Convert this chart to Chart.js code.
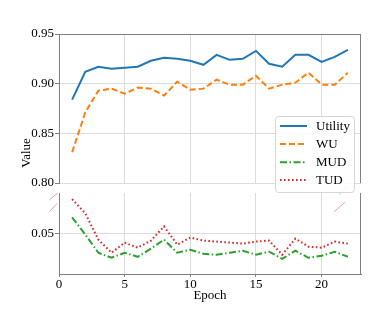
<!DOCTYPE html>
<html>
<head>
<meta charset="utf-8">
<script src="https://cdn.jsdelivr.net/npm/chart.js@4/dist/chart.umd.min.js"></script>
<style>
  html, body { margin: 0; padding: 0; background: #fff; }
  #wrap { position: relative; width: 382px; height: 321px; }
  #wrap canvas { position: absolute; left: 0; top: 0; }
</style>
</head>
<body>
<div id="wrap">
  <canvas id="topChart" width="382" height="321"></canvas>
  <canvas id="bottomChart" width="382" height="321"></canvas>
</div>
<script>
'use strict';

const epochs = [1, 2, 3, 4, 5, 6, 7, 8, 9, 10, 11, 12, 13, 14, 15, 16, 17, 18, 19, 20, 21, 22];
const utility = [0.884, 0.912, 0.917, 0.915, 0.916, 0.917, 0.923, 0.926, 0.925, 0.923, 0.919, 0.929, 0.924, 0.925, 0.933, 0.920, 0.917, 0.929, 0.929, 0.922, 0.927, 0.934];
const wu = [0.831, 0.871, 0.893, 0.895, 0.890, 0.896, 0.895, 0.888, 0.902, 0.894, 0.895, 0.904, 0.899, 0.899, 0.908, 0.895, 0.899, 0.901, 0.911, 0.899, 0.899, 0.911];
const mud = [0.066, 0.049, 0.031, 0.026, 0.031, 0.027, 0.035, 0.044, 0.031, 0.034, 0.030, 0.029, 0.031, 0.033, 0.029, 0.032, 0.025, 0.033, 0.026, 0.028, 0.032, 0.027];
const tud = [0.084, 0.070, 0.044, 0.031, 0.041, 0.036, 0.043, 0.057, 0.039, 0.046, 0.043, 0.042, 0.041, 0.040, 0.042, 0.043, 0.029, 0.045, 0.037, 0.036, 0.042, 0.040];

const xTicks = [0, 5, 10, 15, 20];
const topTicks = [0.80, 0.85, 0.90, 0.95];
const bottomTicks = [0.05];

const font = { family: "'Liberation Serif', 'Times New Roman', serif", size: 13 };
const gridColor = '#dcdcdc';
const spineColor = '#808080';

function pts(vals) {
  return epochs.map((e, i) => ({ x: e, y: vals[i] }));
}

const series = [
  { label: 'Utility', data: utility, color: '#1f77b4', dash: [] },
  { label: 'WU', data: wu, color: '#ff7f0e', dash: [6, 3] },
  { label: 'MUD', data: mud, color: '#2ca02c', dash: [7, 2.5, 1.5, 2.5] },
  { label: 'TUD', data: tud, color: '#d62728', dash: [1.6, 2.4] }
];

function dataset(s) {
  return {
    label: s.label,
    data: pts(s.data),
    borderColor: s.color,
    backgroundColor: s.color,
    borderWidth: 2,
    borderDash: s.dash,
    pointRadius: 0,
    tension: 0,
    fill: false
  };
}

function setTicks(list) {
  return scale => { scale.ticks = list.map(v => ({ value: v })); };
}

// extra spines (top / right) not covered by axis borders
function spinesPlugin(sides) {
  return {
    id: 'spines',
    afterDatasetsDraw(chart) {
      const { ctx, chartArea: a } = chart;
      ctx.save();
      ctx.strokeStyle = spineColor;
      ctx.lineWidth = 1;
      ctx.beginPath();
      if (sides.includes('top')) { ctx.moveTo(a.left, a.top + 0.5); ctx.lineTo(a.right, a.top + 0.5); }
      if (sides.includes('right')) { ctx.moveTo(a.right - 0.5, a.top); ctx.lineTo(a.right - 0.5, a.bottom); }
      ctx.stroke();
      ctx.restore();
    }
  };
}

const topChart = new Chart(document.getElementById('topChart'), {
  type: 'line',
  data: { datasets: [dataset(series[0]), dataset(series[1])] },
  options: {
    responsive: false,
    animation: false,
    layout: { padding: { top: 34, right: 21, bottom: 138, left: 0 } },
    plugins: { legend: { display: false }, tooltip: { enabled: false } },
    scales: {
      x: {
        type: 'linear', min: 0, max: 23,
        afterBuildTicks: setTicks(xTicks),
        afterFit: s => { s.height = 0; },
        ticks: { display: false },
        grid: { color: gridColor, drawTicks: false },
        border: { display: false }
      },
      y: {
        min: 0.80, max: 0.95,
        afterBuildTicks: setTicks(topTicks),
        afterFit: s => { s.width = 59; },
        ticks: { color: '#000', font: font, padding: 1, callback: v => v.toFixed(2) },
        grid: { color: gridColor, tickLength: 4, tickColor: spineColor },
        border: { color: spineColor, width: 1 }
      }
    }
  },
  plugins: [spinesPlugin(['top', 'right'])]
});

// legend, break marks and y title on the upper canvas
const overlay = {
  id: 'overlay',
  afterDraw(chart) {
    const ctx = chart.ctx;
    ctx.save();
    // broken-axis marks
    ctx.strokeStyle = '#f4a0a0';
    ctx.lineWidth = 1;
    const marks = [[49.3, 200, 57.3, 193.3], [49.3, 211.7, 57.3, 203.3], [334, 211.7, 345, 202.3], [339.3, 194.3, 347, 187]];
    marks.forEach(m => { ctx.beginPath(); ctx.moveTo(m[0], m[1]); ctx.lineTo(m[2], m[3]); ctx.stroke(); });

    // legend
    const bx = 275.5, by = 116.5, bw = 79, bh = 76;
    ctx.beginPath();
    ctx.roundRect(bx, by, bw, bh, 3);
    ctx.fillStyle = 'rgba(255,255,255,0.85)';
    ctx.fill();
    ctx.strokeStyle = '#d6d6d6';
    ctx.stroke();
    const rows = [126, 144, 162.3, 180];
    ctx.font = font.size + 'px ' + font.family;
    ctx.textBaseline = 'middle';
    ctx.textAlign = 'left';
    series.forEach((s, i) => {
      ctx.beginPath();
      ctx.setLineDash(s.dash);
      ctx.strokeStyle = s.color;
      ctx.lineWidth = 2;
      ctx.moveTo(280, rows[i]);
      ctx.lineTo(307, rows[i]);
      ctx.stroke();
      ctx.setLineDash([]);
      ctx.fillStyle = '#000';
      ctx.fillText(s.label, 316, rows[i] + 0.5);
    });

    // shared y title
    ctx.translate(27, 153);
    ctx.rotate(-Math.PI / 2);
    ctx.textAlign = 'center';
    ctx.fillText('Value', 0, 0);
    ctx.restore();
  }
};

const bottomChart = new Chart(document.getElementById('bottomChart'), {
  type: 'line',
  data: { datasets: [dataset(series[2]), dataset(series[3])] },
  options: {
    responsive: false,
    animation: false,
    layout: { padding: { top: 193, right: 21, bottom: 14, left: 0 } },
    plugins: { legend: { display: false }, tooltip: { enabled: false } },
    scales: {
      x: {
        type: 'linear', min: 0, max: 23,
        afterBuildTicks: setTicks(xTicks),
        afterFit: s => { s.height = 33; },
        ticks: { color: '#000', font: font, padding: 0, maxRotation: 0 },
        grid: { color: gridColor, tickLength: 3, tickColor: spineColor },
        border: { color: spineColor, width: 1 },
        title: { display: true, text: 'Epoch', color: '#000', font: font, padding: { top: 0, bottom: 4 } }
      },
      y: {
        min: 0.01, max: 0.09,
        afterBuildTicks: setTicks(bottomTicks),
        afterFit: s => { s.width = 59; },
        ticks: { color: '#000', font: font, padding: 1, callback: v => v.toFixed(2) },
        grid: { color: gridColor, tickLength: 4, tickColor: spineColor },
        border: { color: spineColor, width: 1 }
      }
    }
  },
  plugins: [spinesPlugin(['right']), overlay]
});
</script>
</body>
</html>
